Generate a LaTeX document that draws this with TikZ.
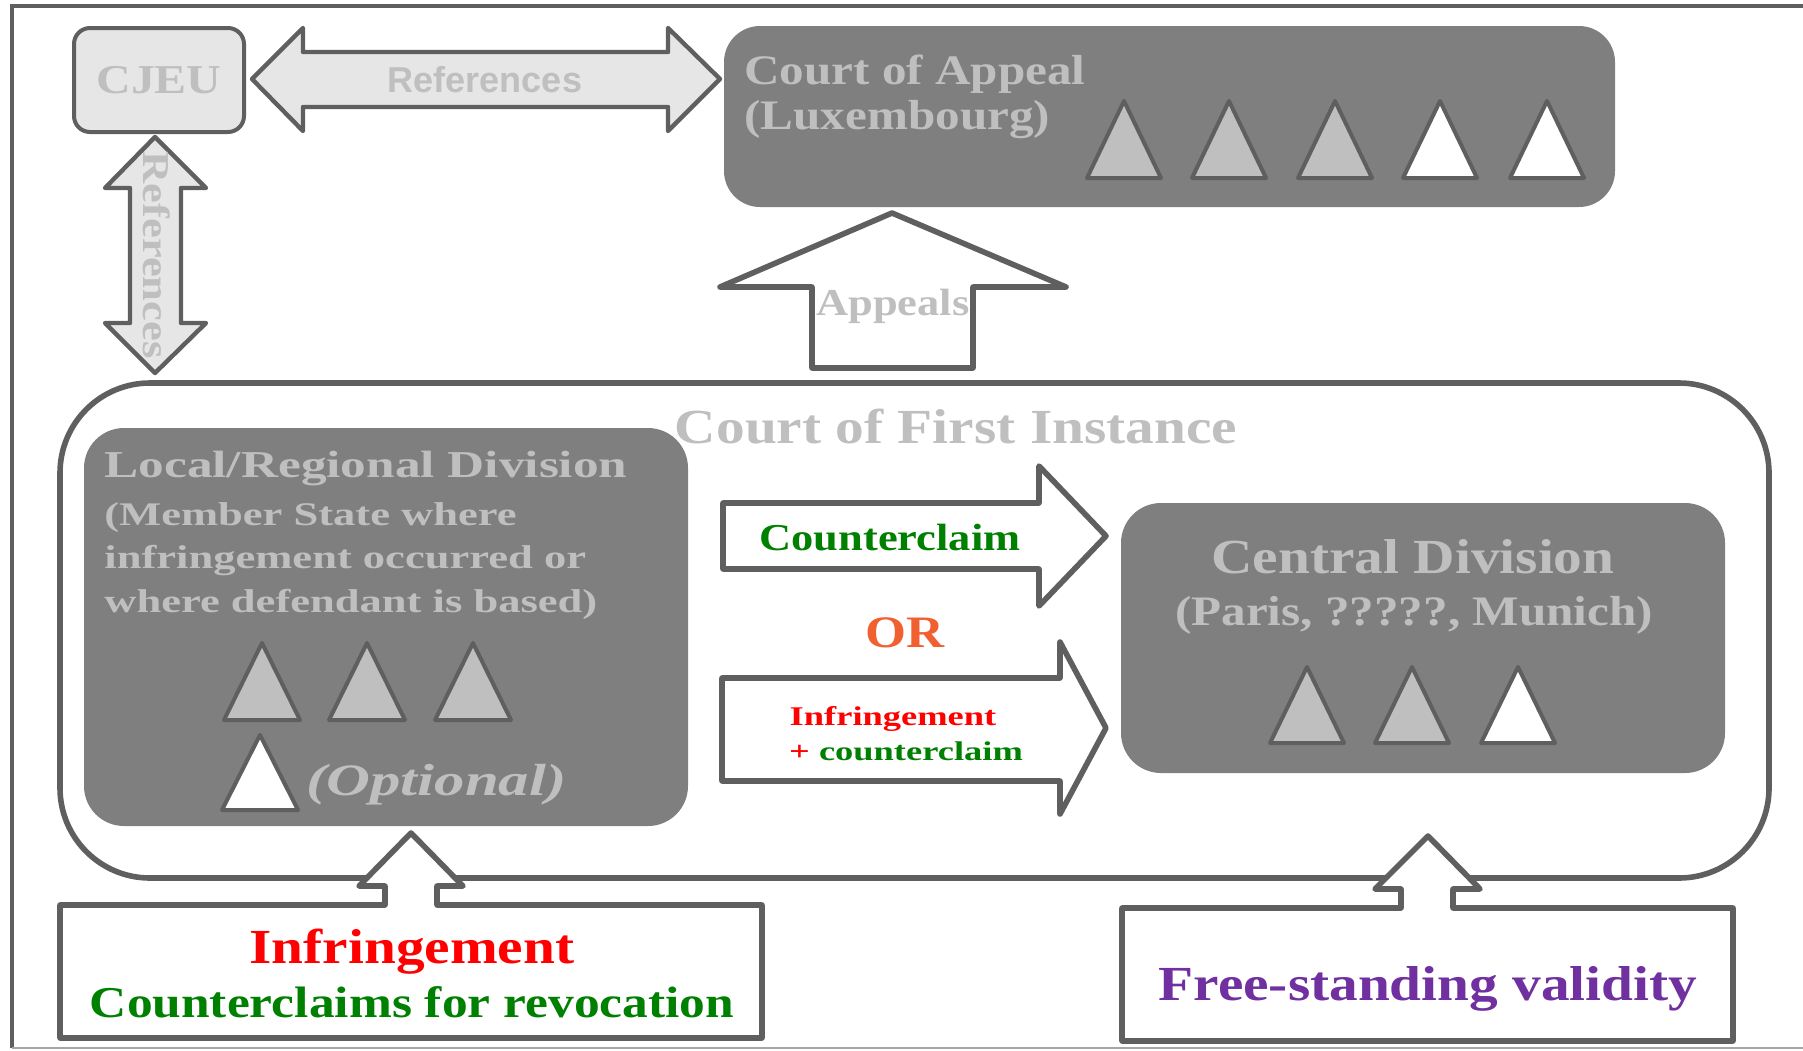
\documentclass[tikz,border=0pt]{standalone}
\usepackage{fontspec}
\newfontfamily\courtfont[FakeStretch=1.17]{Liberation Serif}
\newfontfamily\widefont[FakeStretch=1.35]{Liberation Serif}
\newfontfamily\refsans{Liberation Sans}
\newcommand{\tam}[1]{\fontsize{#1}{#1}\selectfont}

\definecolor{linegray}{RGB}{95,95,95}
\definecolor{boxgray}{RGB}{127,127,127}
\definecolor{labelgray}{RGB}{191,191,191}
\definecolor{judgegray}{RGB}{191,191,191}
\definecolor{palegray}{RGB}{230,230,230}
\definecolor{claimgreen}{RGB}{0,128,0}
\definecolor{ororange}{RGB}{240,96,48}
\definecolor{validpurple}{RGB}{112,48,160}

\begin{document}
\begin{tikzpicture}[x=0.5pt, y=-0.5pt,
    blockarrow/.style={draw=linegray, line width=2.8pt, line join=round},
    courtbox/.style={fill=boxgray, rounded corners=18pt},
    judge/.style={draw=linegray, line width=2pt, line join=round},
    txt/.style={anchor=base, inner sep=0pt},
    greylabel/.style={txt, text=labelgray}]
  \useasboundingbox (0,0) rectangle (1803,1050);

  % Frame
  \draw[linegray, line width=1.6pt] (1803,6) -- (12,6) -- (12,1048);
  \draw[black!35, line width=1pt] (12,1048) -- (1803,1048);

  % CJEU and references
  \node[draw=linegray, fill=palegray, line width=2pt, rounded corners=8pt, minimum width=85pt, minimum height=52pt,
        text=labelgray, font=\courtfont\bfseries\tam{20.5}] (cjeu) at (159,80) {CJEU};
  \filldraw[blockarrow, fill=palegray, line width=2.2pt] (252,79) -- (303,28) -- (303,52) -- (668,52) -- (668,28)
    -- (720,79) -- (668,131) -- (668,107) -- (303,107) -- (303,131) -- cycle;
  \node[greylabel, font=\refsans\bfseries\tam{18}] (ref-h) at (485,92) {References};
  \filldraw[blockarrow, fill=palegray, line width=2.2pt] (155,137) -- (206,188) -- (181,188) -- (181,323) -- (206,323)
    -- (155,373) -- (105,323) -- (130,323) -- (130,188) -- (105,188) -- cycle;
  \node[greylabel, rotate=-90, font=\courtfont\bfseries\tam{19}] (ref-v) at (143,255) {References};

  % Court of Appeal
  \fill[courtbox] (724,26) rectangle (1615,207);
  \node[greylabel, anchor=base west, font=\courtfont\bfseries\tam{21}] (appeal-1) at (744,84) {Court of Appeal};
  \node[greylabel, anchor=base west, font=\courtfont\bfseries\tam{21}] (appeal-2) at (744,129) {(Luxembourg)};
  \foreach \cx/\cor in {1124/judgegray,1229/judgegray,1335/judgegray,1440/white,1547/white}
    \filldraw[judge, fill=\cor] (\cx-37,178) -- (\cx,101) -- (\cx+37,178) -- cycle;

  % Appeals
  \filldraw[blockarrow, fill=white] (892,213) -- (1066,287) -- (973,287) -- (973,368) -- (812,368) -- (812,287)
    -- (720,287) -- cycle;
  \node[greylabel, font=\courtfont\bfseries\tam{19}] (appeals) at (893,315) {Appeals};

  % Court of First Instance
  \draw[linegray, line width=2.8pt, rounded corners=45pt] (60,383) rectangle (1769,878);
  \node[greylabel, font=\courtfont\bfseries\tam{24.5}] (first) at (956,443) {Court of First Instance};

  % Local/regional division
  \fill[courtbox, rounded corners=20pt] (84,428) rectangle (688,826);
  \node[greylabel, anchor=base west, font=\widefont\bfseries\tam{19}] (local) at (104,477) {Local/Regional Division};
  \foreach \linha/\yb [count=\i] in {{(Member State where}/525, {infringement occurred or}/568, {where defendant is based)}/612}
    \node[greylabel, anchor=base west, font=\widefont\bfseries\tam{16.5}] (local-\i) at (104,\yb) {\linha};
  \foreach \cx in {262,367,473}
    \filldraw[judge, fill=judgegray] (\cx-38,720) -- (\cx,643) -- (\cx+38,720) -- cycle;
  \filldraw[judge, fill=white] (222,810) -- (260,735) -- (298,810) -- cycle;
  \node[greylabel, anchor=base west, font=\widefont\bfseries\itshape\tam{22.5}] (optional) at (306,795) {(Optional)};

  % Central division
  \fill[courtbox, rounded corners=20pt] (1121,503) rectangle (1725,773);
  \node[greylabel, font=\courtfont\bfseries\tam{24.5}] (central) at (1413,573) {Central Division};
  \node[greylabel, font=\courtfont\bfseries\tam{21}] (central-2) at (1414,625) {(Paris, ?????, Munich)};
  \foreach \cx/\cor in {1307/judgegray,1412/judgegray,1518/white}
    \filldraw[judge, fill=\cor] (\cx-37,743) -- (\cx,667) -- (\cx+37,743) -- cycle;

  % Transfers to the central division
  \filldraw[blockarrow, fill=white] (723,503) -- (1039,503) -- (1039,466) -- (1106,536) -- (1039,606) -- (1039,569)
    -- (723,569) -- cycle;
  \node[txt, text=claimgreen, font=\courtfont\bfseries\tam{19}] (counter) at (890,550) {Counterclaim};
  \node[txt, text=ororange, font=\courtfont\bfseries\tam{22.5}] (or) at (905,647) {OR};
  \filldraw[blockarrow, fill=white] (722,678) -- (1060,678) -- (1060,642) -- (1106,728) -- (1060,814) -- (1060,781)
    -- (722,781) -- cycle;
  \node[txt, text=red, font=\widefont\bfseries\tam{13.5}] (both-1) at (893,725) {Infringement};
  \node[txt, text=claimgreen, font=\widefont\bfseries\tam{13.5}] (both-2) at (906,760) {\textcolor{red}{+} counterclaim};

  % Actions brought
  \filldraw[blockarrow, fill=white] (60,905) -- (385,905) -- (385,886) -- (359,886) -- (411,833) -- (463,886)
    -- (437,886) -- (437,905) -- (762,905) -- (762,1038) -- (60,1038) -- cycle;
  \node[txt, text=red, font=\courtfont\bfseries\tam{24.5}] (infr) at (412,963) {Infringement};
  \node[txt, text=claimgreen, font=\courtfont\bfseries\tam{22}] (revoc) at (412,1017) {Counterclaims for revocation};
  \filldraw[blockarrow, fill=white] (1122,908) -- (1401,908) -- (1401,889) -- (1375,889) -- (1428,836) -- (1480,889)
    -- (1453,889) -- (1453,908) -- (1733,908) -- (1733,1041) -- (1122,1041) -- cycle;
  \node[txt, text=validpurple, font=\courtfont\bfseries\tam{24.5}] (valid) at (1428,1000) {Free-standing validity};
\end{tikzpicture}
\end{document}
